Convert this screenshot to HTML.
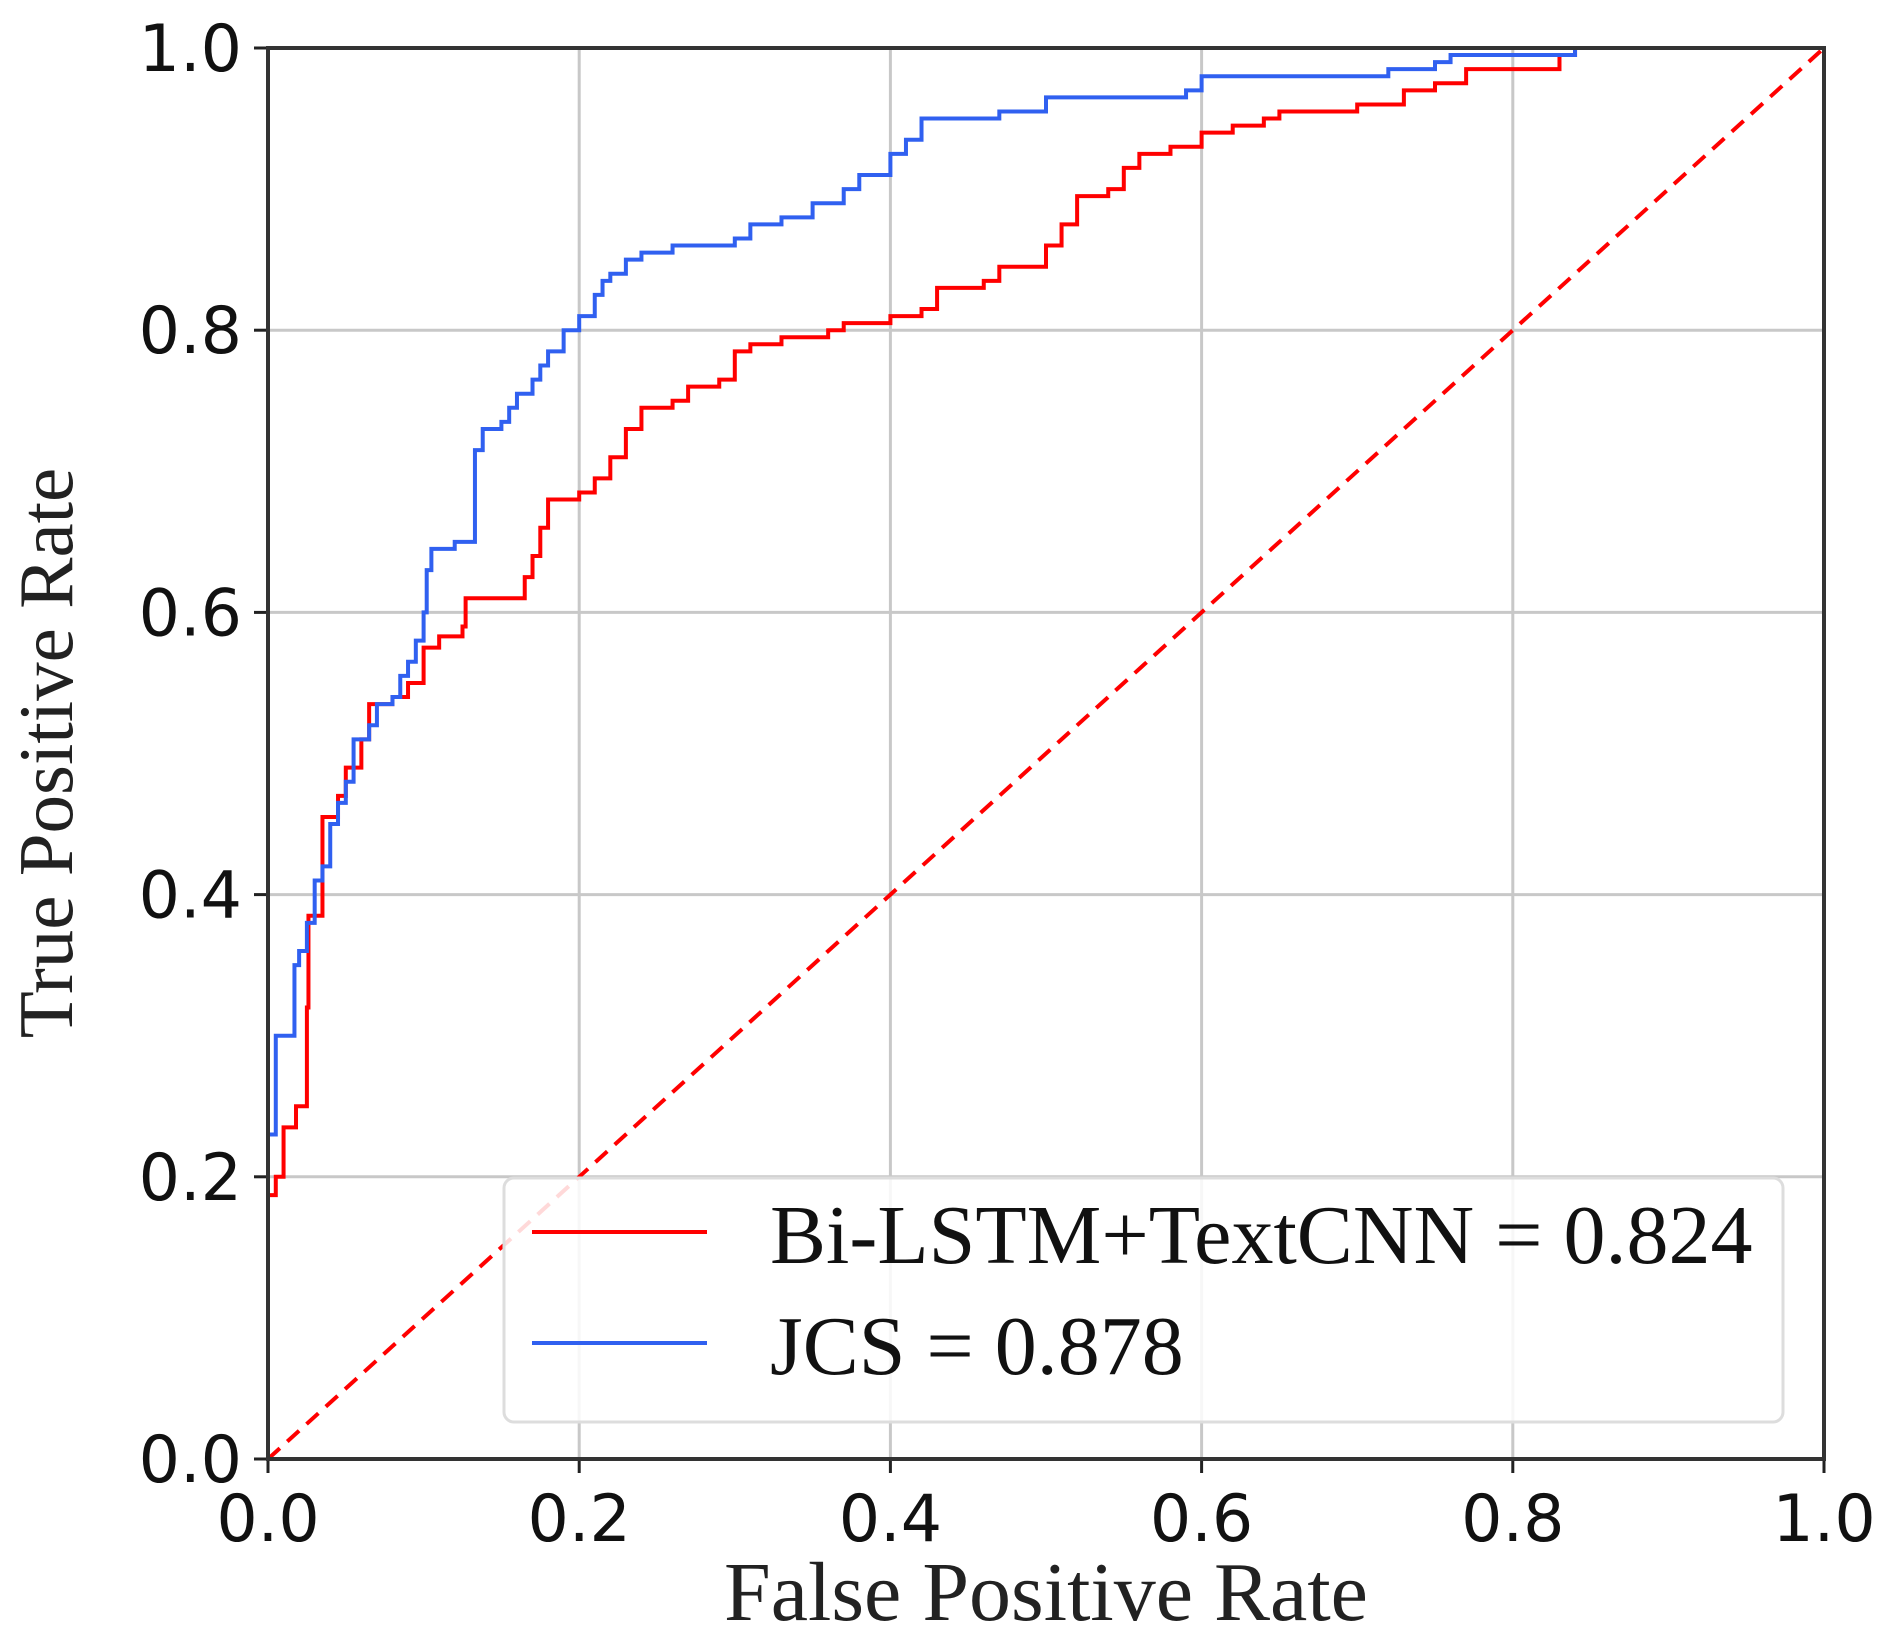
<!DOCTYPE html>
<html><head><meta charset="utf-8"><style>
html,body{margin:0;padding:0;background:#fff}
svg{display:block}
</style></head><body>
<svg id="chart" width="1894" height="1648" viewBox="0 0 1894 1648" xmlns="http://www.w3.org/2000/svg">
<g id="grid"></g>
<g id="series"></g>
<g id="axes"></g>
<g id="legend">
<rect x="504" y="1178" width="1279" height="244" rx="10" fill="#fff" fill-opacity="0.85" stroke="#ddd" stroke-width="3"/>
<line x1="532" y1="1232" x2="707" y2="1232" stroke="#ff0000" stroke-width="4"/>
<line x1="532" y1="1343" x2="707" y2="1343" stroke="#3060f0" stroke-width="4"/>
<text x="770" y="1263" font-family="Liberation Serif, serif" font-size="84" fill="#111">Bi-LSTM+TextCNN = 0.824</text>
<text x="770" y="1374" font-family="Liberation Serif, serif" font-size="84" fill="#111">JCS = 0.878</text>
</g>
<text x="1046" y="1620" text-anchor="middle" font-family="Liberation Serif, serif" font-size="84" fill="#222">False Positive Rate</text>
<text transform="translate(72,753) rotate(-90)" text-anchor="middle" font-family="Liberation Serif, serif" font-size="77" fill="#222">True Positive Rate</text>
</svg>
<script>
const ticks=[0,0.2,0.4,0.6,0.8,1.0];
const tickLabels=["0.0","0.2","0.4","0.6","0.8","1.0"];
const redX=[0,0.005,0.01,0.018,0.025,0.026,0.035,0.035,0.045,0.05,0.06,0.065,0.08,0.09,0.1,0.11,0.125,0.127,0.16,0.165,0.17,0.175,0.18,0.2,0.21,0.22,0.23,0.24,0.26,0.27,0.29,0.3,0.31,0.33,0.36,0.37,0.4,0.42,0.43,0.46,0.47,0.5,0.5,0.51,0.52,0.54,0.55,0.56,0.58,0.6,0.62,0.64,0.65,0.7,0.73,0.75,0.77,0.83,0.84,0.92];
const redY=[0.187,0.2,0.235,0.25,0.32,0.385,0.4,0.455,0.47,0.49,0.51,0.535,0.54,0.55,0.575,0.583,0.59,0.61,0.61,0.625,0.64,0.66,0.68,0.685,0.695,0.71,0.73,0.745,0.75,0.76,0.765,0.785,0.79,0.795,0.8,0.805,0.81,0.815,0.83,0.835,0.845,0.85,0.86,0.875,0.895,0.9,0.915,0.925,0.93,0.94,0.945,0.95,0.955,0.96,0.97,0.975,0.985,0.995,1.0,1.0];
const blueX=[0,0.005,0.015,0.017,0.02,0.025,0.03,0.035,0.04,0.045,0.05,0.055,0.065,0.07,0.08,0.085,0.09,0.095,0.1,0.102,0.105,0.12,0.13,0.133,0.138,0.15,0.155,0.16,0.17,0.175,0.18,0.19,0.2,0.21,0.215,0.22,0.23,0.24,0.26,0.3,0.31,0.33,0.35,0.37,0.38,0.4,0.41,0.42,0.47,0.5,0.59,0.6,0.72,0.75,0.76,0.84,0.92];
const blueY=[0.23,0.3,0.3,0.35,0.36,0.38,0.41,0.42,0.45,0.465,0.48,0.51,0.52,0.535,0.54,0.555,0.565,0.58,0.6,0.63,0.645,0.65,0.65,0.715,0.73,0.735,0.745,0.755,0.765,0.775,0.785,0.8,0.81,0.825,0.835,0.84,0.85,0.855,0.86,0.865,0.875,0.88,0.89,0.9,0.91,0.925,0.935,0.95,0.955,0.965,0.97,0.98,0.985,0.99,0.995,1.0,1.0];
const L=268,R=1824,T=48,B=1459;
const sx=v=>L+v*(R-L), sy=v=>B-v*(B-T);
const NS="http://www.w3.org/2000/svg";
function mk(tag,attrs,parent){const e=document.createElementNS(NS,tag);for(const k in attrs)e.setAttribute(k,attrs[k]);parent.appendChild(e);return e;}
const grid=document.getElementById('grid'),axes=document.getElementById('axes'),series=document.getElementById('series');
ticks.forEach((t,i)=>{
  const gv=mk('line',{x1:sx(t),y1:T,x2:sx(t),y2:B,stroke:'#c8c8c8','stroke-width':3},grid);
  
  
  const gh=mk('line',{x1:L,y1:sy(t),x2:R,y2:sy(t),stroke:'#c8c8c8','stroke-width':3},grid);
  
  
  const tx=mk('line',{x1:sx(t),y1:B,x2:sx(t),y2:B+14,stroke:'#222','stroke-width':3},axes);
  
  
  const ty=mk('line',{x1:L-14,y1:sy(t),x2:L,y2:sy(t),stroke:'#222','stroke-width':3},axes);
  
  
  const lx=mk('text',{x:sx(t),y:B+82,'text-anchor':'middle','font-family':'DejaVu Sans, sans-serif','font-size':65,fill:'#111'},axes);
  lx.textContent=tickLabels[i];
  
  
  const ly=mk('text',{x:L-26,y:sy(t)+23,'text-anchor':'end','font-family':'DejaVu Sans, sans-serif','font-size':65,fill:'#111'},axes);
  ly.textContent=tickLabels[i];
  
  
});
const frame=mk('rect',{x:L,y:T,width:R-L,height:B-T,fill:'none',stroke:'#333','stroke-width':4},axes);


const diag=mk('line',{x1:sx(0),y1:sy(0),x2:sx(1),y2:sy(1),stroke:'#ff0000','stroke-width':4,'stroke-dasharray':'16,10'},series);


function stepPath(xs,ys){let d='M'+sx(xs[0])+','+sy(ys[0]);for(let i=1;i<xs.length;i++){d+=' L'+sx(xs[i])+','+sy(ys[i-1])+' L'+sx(xs[i])+','+sy(ys[i]);}return d;}
const red=mk('path',{d:stepPath(redX,redY),fill:'none',stroke:'#ff0000','stroke-width':4},series);


const blue=mk('path',{d:stepPath(blueX,blueY),fill:'none',stroke:'#3060f0','stroke-width':4},series);


</script>
</body></html>
